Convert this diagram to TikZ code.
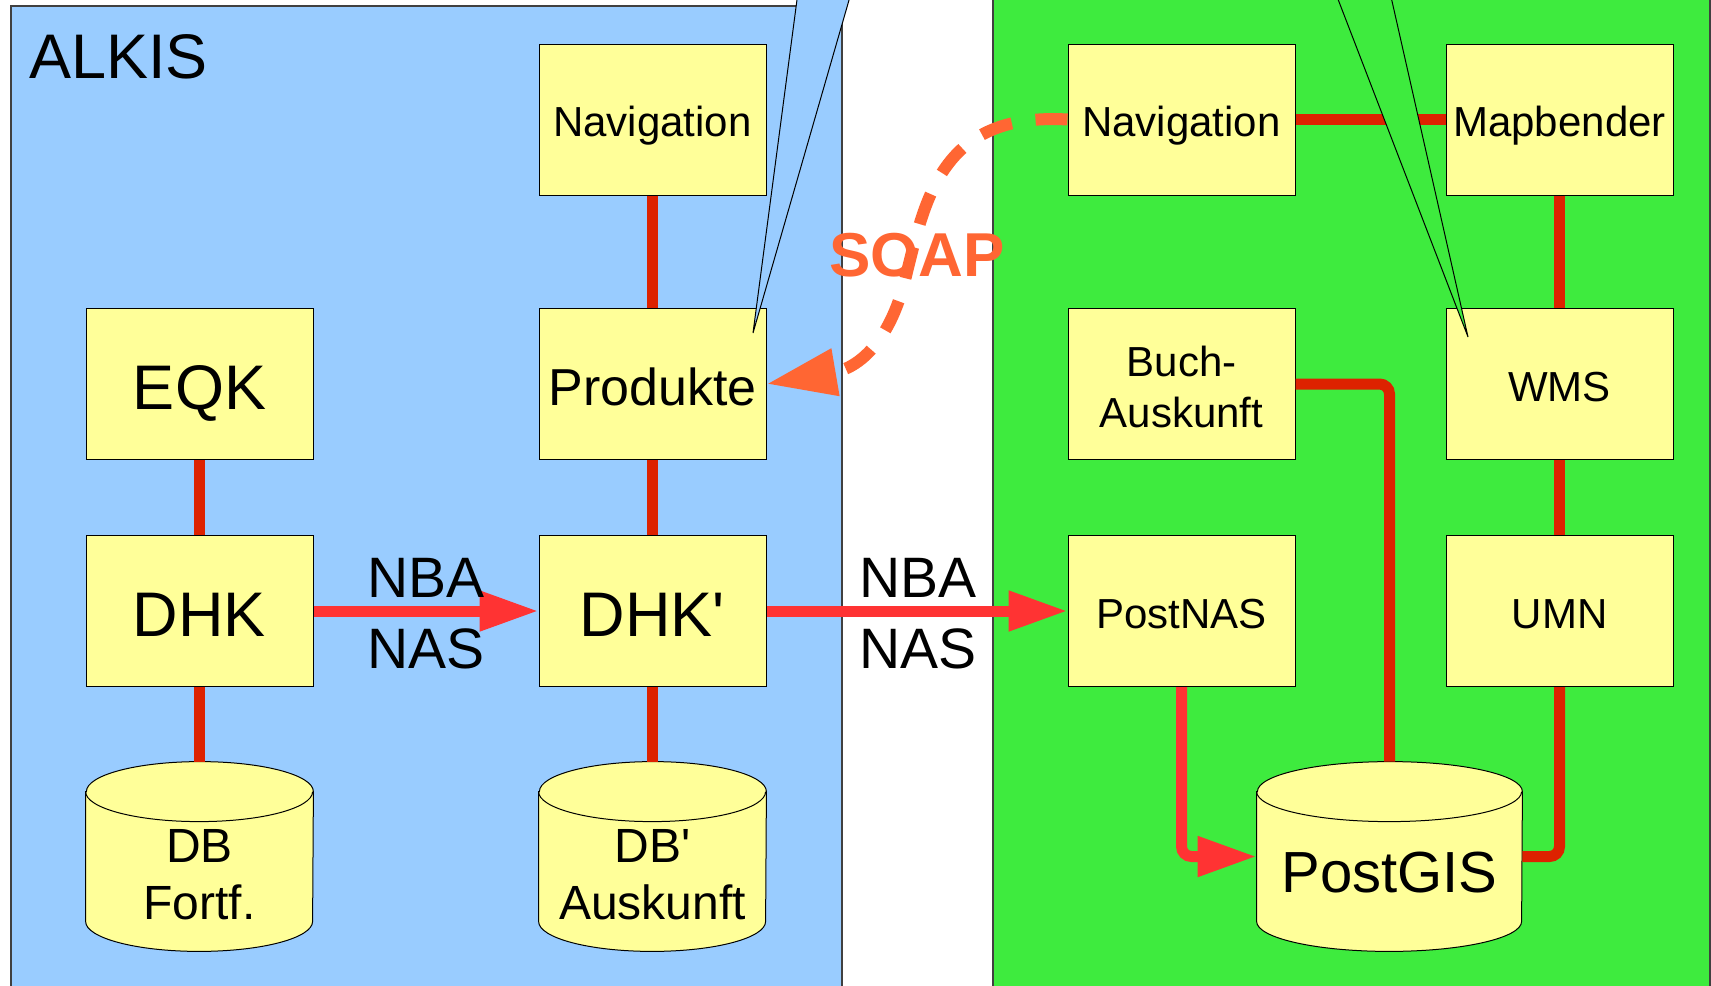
\documentclass[tikz,border=0pt]{standalone}
\usepackage{fontspec}
\setmainfont{Liberation Sans}
\usetikzlibrary{arrows.meta,calc}
\definecolor{panelblue}{HTML}{99CCFF}
\definecolor{panelgreen}{RGB}{62,235,62}
\definecolor{boxyellow}{HTML}{FFFF99}
\definecolor{linkred}{HTML}{DD2200}
\definecolor{arrred}{HTML}{FF3333}
\definecolor{soaporange}{HTML}{FF6633}
\definecolor{rimgrey}{HTML}{404040}
\newcommand\drawcyl[2]{%
  \draw[line width=0.5pt, fill=boxyellow] ($(#1.north west)+(0,30)$) -- ($(#1.south west)+(0,-30)$)
    arc[start angle=180,end angle=360,x radius=#2,y radius=15pt] -- ($(#1.north east)+(0,30)$)
    arc[start angle=0,end angle=180,x radius=#2,y radius=15pt] -- cycle;
  \draw[line width=0.5pt] ($(#1.north west)+(0,30)$) arc[start angle=180,end angle=360,x radius=#2,y radius=15pt];}
\begin{document}
\begin{tikzpicture}[x=0.5pt,y=-0.5pt,
  box/.style={draw=black, line width=0.5pt, fill=boxyellow, minimum width=113.5pt, minimum height=75.5pt, inner sep=0pt, align=center},
  cylbox/.style={minimum width=113.5pt, minimum height=94.5pt, inner sep=0pt},
  cyltext/.style={align=center, inner sep=0pt},
  big/.style={font=\fontsize{31.5}{37}\selectfont, text height=25.3pt, text depth=0pt},
  mid/.style={font=\fontsize{21}{25.5}\selectfont, text height=17.2pt, text depth=0pt},
  dbfont/.style={font=\fontsize{24}{28.5}\selectfont},
  link/.style={draw=linkred, line width=5.5pt},
  flow/.style={draw=arrred, line width=5.5pt, -{Triangle[length=29.5pt,width=19pt]}},
  nbafont/.style={font=\fontsize{28.5}{35.5}\selectfont, align=center, inner sep=0pt}]
\useasboundingbox (0,0) rectangle (1711,985);
\fill[white] (0,0) rectangle (1711,985);
% panels
\draw[rimgrey, line width=0.6pt, fill=panelblue] (11,1000) -- (11,6) -- (842,6) -- (842,1000);
\draw[rimgrey, line width=0.6pt, fill=panelgreen] (993,1000) -- (993,-10) -- (1710,-10) -- (1710,1000);
\node[anchor=base west, font=\fontsize{31.5}{37}\selectfont, inner sep=0pt] (alkis) at (29,78) {ALKIS};
% boxes
\node[box,big] (eqk) at (199.5,384) {EQK};
\node[box,big] (dhk) at (199.5,611) {DHK};
\node[cylbox] (dbf) at (199.5,856.5) {};
\node[box,mid] (nav1) at (652.5,119.5) {Navigation};
\node[box,font=\fontsize{26}{30}\selectfont, text height=21.8pt, text depth=0pt] (prod) at (652.5,384) {Produkte};
\node[box,big] (dhkp) at (652.5,611) {DHK\textquotesingle};
\node[cylbox] (dba) at (652.5,856.5) {};
\node[box,mid] (nav2) at (1181.5,119.5) {Navigation};
\node[box,mid,text height=43.3pt] (buch) at (1181.5,384) {Buch-\\Auskunft};
\node[box,mid] (pnas) at (1181.5,611) {PostNAS};
\node[box,mid] (mapb) at (1559.5,119.5) {Mapbender};
\node[box,mid] (wms) at (1559.5,384) {WMS};
\node[box,mid] (umn) at (1559.5,611) {UMN};
\node[cylbox,minimum width=132.5pt] (pgis) at (1389.5,856.5) {};
% cylinders
\drawcyl{dbf}{56.75pt}
\drawcyl{dba}{56.75pt}
\drawcyl{pgis}{66.25pt}
\node[cyltext,dbfont] (dbft) at (199.5,875) {DB\\Fortf.};
\node[cyltext,dbfont] (dbat) at (652.5,875) {DB\textquotesingle\\Auskunft};
\node[cyltext,font=\fontsize{29}{34}\selectfont] (pgist) at (1389.5,873) {PostGIS};
% connectors
\draw[link] (nav1.south) -- (prod.north);
\draw[link] (prod.south) -- (dhkp.north);
\draw[link] (dhkp.south) -- (dba.north);
\draw[link] (eqk.south) -- (dhk.north);
\draw[link] (dhk.south) -- (dbf.north);
\draw[link] (nav2.east) -- (mapb.west);
\draw[link] (mapb.south) -- (wms.north);
\draw[link] (wms.south) -- (umn.north);
\draw[link, rounded corners=5pt] (buch.east) -| (pgis.north);
\draw[link, rounded corners=5pt] (umn.south) |- (pgis.east);
\draw[flow] (dhk.east) -- (dhkp.west);
\draw[flow] (dhkp.east) -- (pnas.west);
\draw[flow, rounded corners=5pt] (pnas.south) |- (pgis.west);
% callouts
\draw[fill=panelblue, line width=0.5pt] (799.6,-20) -- (753,333) -- (854.8,-20);
\draw[fill=panelgreen, line width=0.5pt] (1330.6,-20) -- (1468,337) -- (1387.2,-20);
% SOAP
\node[font=\bfseries\fontsize{31}{37}\selectfont, text=soaporange, inner sep=0pt] (soap) at (917,255) {SOAP};
\draw[soaporange, line width=6pt, dash pattern=on 16pt off 12pt, -{Triangle[length=35pt,width=22.5pt]}]
  (nav2.west) .. controls (940,112) and (925,200) .. (905,280) .. controls (890,340) and (860,368) .. (prod.east);
% NBA NAS labels
\node[nbafont] (nba1) at (426,613.5) {NBA\\NAS};
\node[nbafont] (nba2) at (918,613.5) {NBA\\NAS};
\end{tikzpicture}
\end{document}
